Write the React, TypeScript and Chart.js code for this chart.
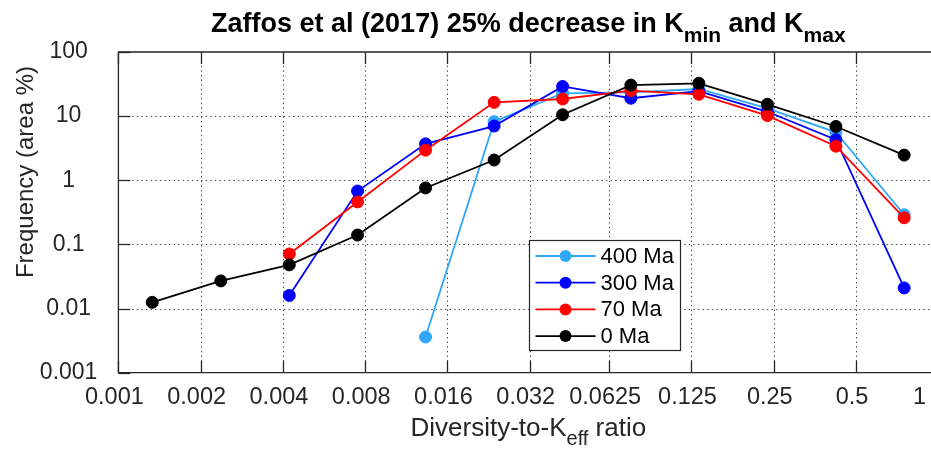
import React, { useEffect, useRef } from "react";
import { Chart, registerables } from "chart.js";

Chart.register(...registerables);

// Bin centres of the diversity-to-K_eff ratio (quarter-decade bins)
const ratioBins = [0.00133, 0.00237, 0.00422, 0.0075, 0.0133, 0.0237, 0.0422, 0.075, 0.133, 0.237, 0.422, 0.75];

// Frequency (area %) per bin for each time slice
const freq400Ma = [null, null, null, null, 0.0036, 8.2, 22.7, 23.5, 26.5, 13.2, 5.6, 0.29];
const freq300Ma = [null, null, 0.016, 0.68, 3.7, 7.0, 29.0, 19.0, 24.5, 11.7, 4.3, 0.021];
const freq70Ma = [null, null, 0.071, 0.46, 2.95, 16.4, 18.5, 25.0, 21.9, 10.2, 3.4, 0.26];
const freq0Ma = [0.0125, 0.027, 0.048, 0.14, 0.76, 2.07, 10.5, 30.5, 32.5, 15.3, 6.9, 2.47];

const seriesLabels = ["400 Ma", "300 Ma", "70 Ma", "0 Ma"];
const seriesColors = ["#30a8fa", "#0000ff", "#ff0000", "#000000"];
const seriesValues = [freq400Ma, freq300Ma, freq70Ma, freq0Ma];

const xTickValues = [0.001, 0.002, 0.004, 0.008, 0.016, 0.032, 0.0625, 0.125, 0.25, 0.5, 1];
const xTickLabels = ["0.001", "0.002", "0.004", "0.008", "0.016", "0.032", "0.0625", "0.125", "0.25", "0.5", "1"];
const yTickValues = [0.001, 0.01, 0.1, 1, 10, 100];
const yTickLabels = ["0.001", "0.01", "0.1", "1", "10", "100"];

const VIEW_W = 931;
const VIEW_H = 452;
const CANVAS_W = 960;
const AXIS_COLOR = "#262626";
const FONT = "'Liberation Sans', Arial, Helvetica, sans-serif";

type Seg = { text: string; size: number; bold?: boolean; dy?: number };

function drawRich(ctx: CanvasRenderingContext2D, segs: Seg[], cx: number, baseline: number) {
  const fontOf = (s: Seg) => `${s.bold ? "bold " : ""}${s.size}px ${FONT}`;
  let total = 0;
  const widths = segs.map((s) => {
    ctx.font = fontOf(s);
    const w = ctx.measureText(s.text).width;
    total += w;
    return w;
  });
  let x = cx - total / 2;
  ctx.textAlign = "left";
  ctx.textBaseline = "alphabetic";
  segs.forEach((s, i) => {
    ctx.font = fontOf(s);
    ctx.fillText(s.text, x, baseline + (s.dy || 0));
    x += widths[i];
  });
}

// Dotted grid under the data, MATLAB-style box and inward ticks on top
const axesBox = {
  id: "axesBox",
  beforeDatasetsDraw(chart: any) {
    const { ctx, chartArea: a, scales } = chart;
    const x = scales.x;
    const y = scales.y;
    ctx.save();
    ctx.strokeStyle = "#3a3a3a";
    ctx.lineWidth = 1;
    ctx.setLineDash([1.3, 3.3]);
    xTickValues.forEach((v) => {
      const px = Math.round(x.getPixelForValue(v)) + 0.5;
      if (px <= a.left + 2 || px >= a.right - 2) return;
      ctx.beginPath();
      ctx.moveTo(px, a.top);
      ctx.lineTo(px, a.bottom);
      ctx.stroke();
    });
    yTickValues.forEach((v) => {
      const py = Math.round(y.getPixelForValue(v)) + 0.5;
      if (py <= a.top + 2 || py >= a.bottom - 2) return;
      ctx.beginPath();
      ctx.moveTo(a.left, py);
      ctx.lineTo(a.right, py);
      ctx.stroke();
    });
    ctx.restore();
  },
  afterDatasetsDraw(chart: any) {
    const { ctx, chartArea: a, scales } = chart;
    const x = scales.x;
    const y = scales.y;
    const tick = 12;
    ctx.save();
    ctx.strokeStyle = AXIS_COLOR;
    ctx.lineWidth = 1.3;
    ctx.setLineDash([]);
    ctx.beginPath();
    ctx.moveTo(a.right, a.top);
    ctx.lineTo(a.left, a.top);
    ctx.lineTo(a.left, a.bottom);
    ctx.lineTo(a.right, a.bottom);
    ctx.stroke();
    xTickValues.forEach((v) => {
      const px = Math.round(x.getPixelForValue(v)) + 0.5;
      ctx.beginPath();
      ctx.moveTo(px, a.bottom);
      ctx.lineTo(px, a.bottom - tick);
      ctx.moveTo(px, a.top);
      ctx.lineTo(px, a.top + tick);
      ctx.stroke();
    });
    yTickValues.forEach((v) => {
      const py = Math.round(y.getPixelForValue(v)) + 0.5;
      ctx.beginPath();
      ctx.moveTo(a.left, py);
      ctx.lineTo(a.left + tick, py);
      ctx.stroke();
    });

    // x tick labels, kept inside the visible width
    ctx.fillStyle = AXIS_COLOR;
    ctx.font = `23.5px ${FONT}`;
    ctx.textAlign = "center";
    ctx.textBaseline = "middle";
    xTickValues.forEach((v, i) => {
      const label = xTickLabels[i];
      const w = ctx.measureText(label).width;
      let px = x.getPixelForValue(v) - 4;
      px = Math.min(px, VIEW_W - 5 - w / 2);
      ctx.fillText(label, px, a.bottom + 25);
    });
    ctx.restore();
  },
  afterDraw(chart: any) {
    const { ctx, chartArea: a } = chart;
    const cx = (a.left + a.right) / 2;
    ctx.save();
    ctx.fillStyle = "#000000";
    drawRich(
      ctx,
      [
        { text: "Zaffos et al (2017) 25% decrease in K", size: 27, bold: true },
        { text: "min", size: 21, bold: true, dy: 10 },
        { text: " and K", size: 27, bold: true },
        { text: "max", size: 21, bold: true, dy: 10 },
      ],
      cx,
      32
    );

    ctx.fillStyle = AXIS_COLOR;
    drawRich(
      ctx,
      [
        { text: "Diversity-to-K", size: 26 },
        { text: "eff", size: 20, dy: 9 },
        { text: " ratio", size: 26 },
      ],
      cx,
      a.bottom + 63
    );

    ctx.translate(26, a.top + 120);
    ctx.rotate(-Math.PI / 2);
    ctx.font = `24px ${FONT}`;
    ctx.textAlign = "center";
    ctx.textBaseline = "middle";
    ctx.fillText("Frequency (area %)", 0, 0);
    ctx.restore();

    // legend box
    ctx.save();
    const lx = 529.5;
    const ly = 240.5;
    const lw = 151;
    const lh = 110;
    ctx.fillStyle = "#ffffff";
    ctx.fillRect(lx, ly, lw, lh);
    ctx.strokeStyle = AXIS_COLOR;
    ctx.lineWidth = 1.2;
    ctx.strokeRect(lx, ly, lw, lh);
    chart.data.datasets.forEach((ds: any, i: number) => {
      const rowY = ly + 15.5 + i * 26.7;
      ctx.strokeStyle = ds.borderColor;
      ctx.lineWidth = 1.8;
      ctx.beginPath();
      ctx.moveTo(lx + 6, rowY);
      ctx.lineTo(lx + 66, rowY);
      ctx.stroke();
      ctx.fillStyle = ds.borderColor;
      ctx.beginPath();
      ctx.arc(lx + 36, rowY, 6, 0, Math.PI * 2);
      ctx.fill();
      ctx.fillStyle = "#000000";
      ctx.font = `22px ${FONT}`;
      ctx.textAlign = "left";
      ctx.textBaseline = "middle";
      ctx.fillText(ds.label, lx + 71, rowY + 1);
    });
    ctx.restore();
  },
};

export default function App() {
  const canvasRef = useRef<HTMLCanvasElement | null>(null);

  useEffect(() => {
    const canvas = canvasRef.current;
    if (!canvas) return;

    const datasets = seriesLabels.map((label, s) => ({
      label,
      data: ratioBins
        .map((r, i) => ({ x: r, y: seriesValues[s][i] }))
        .filter((p) => p.y !== null),
      borderColor: seriesColors[s],
      backgroundColor: seriesColors[s],
      pointBackgroundColor: seriesColors[s],
      pointBorderColor: seriesColors[s],
      pointBorderWidth: 1,
      pointRadius: 6,
      borderWidth: 1.8,
      tension: 0,
      order: seriesLabels.length - s,
    }));

    const chart = new Chart(canvas, {
      type: "line",
      data: { datasets },
      plugins: [axesBox],
      options: {
        animation: false,
        responsive: false,
        maintainAspectRatio: false,
        layout: { padding: { top: 52, right: CANVAS_W - 938.3, bottom: 0, left: 0 } },
        plugins: {
          legend: { display: false },
          tooltip: { enabled: false },
          title: { display: false },
        },
        scales: {
          x: {
            type: "logarithmic",
            min: 0.001,
            max: 1,
            grid: { display: false },
            border: { display: false },
            ticks: { display: false },
            afterBuildTicks: (scale: any) => {
              scale.ticks = xTickValues.map((value) => ({ value }));
            },
            afterFit: (scale: any) => {
              scale.height = VIEW_H - 372.7;
            },
          },
          y: {
            type: "logarithmic",
            min: 0.001,
            max: 100,
            grid: { display: false, drawTicks: false },
            border: { display: false },
            ticks: {
              autoSkip: false,
              crossAlign: "center",
              padding: 21,
              color: AXIS_COLOR,
              font: { family: FONT, size: 23 },
              callback: (_v: any, i: number) => yTickLabels[i],
            },
            afterBuildTicks: (scale: any) => {
              scale.ticks = yTickValues.map((value) => ({ value }));
            },
            afterFit: (scale: any) => {
              scale.width = 118.4;
            },
          },
        },
      },
    });

    return () => chart.destroy();
  }, []);

  return (
    <div
      style={{
        position: "fixed",
        left: 0,
        top: 0,
        width: VIEW_W,
        height: VIEW_H,
        overflow: "hidden",
        background: "#ffffff",
      }}
    >
      <canvas ref={canvasRef} width={CANVAS_W} height={VIEW_H} style={{ display: "block" }} />
    </div>
  );
}
